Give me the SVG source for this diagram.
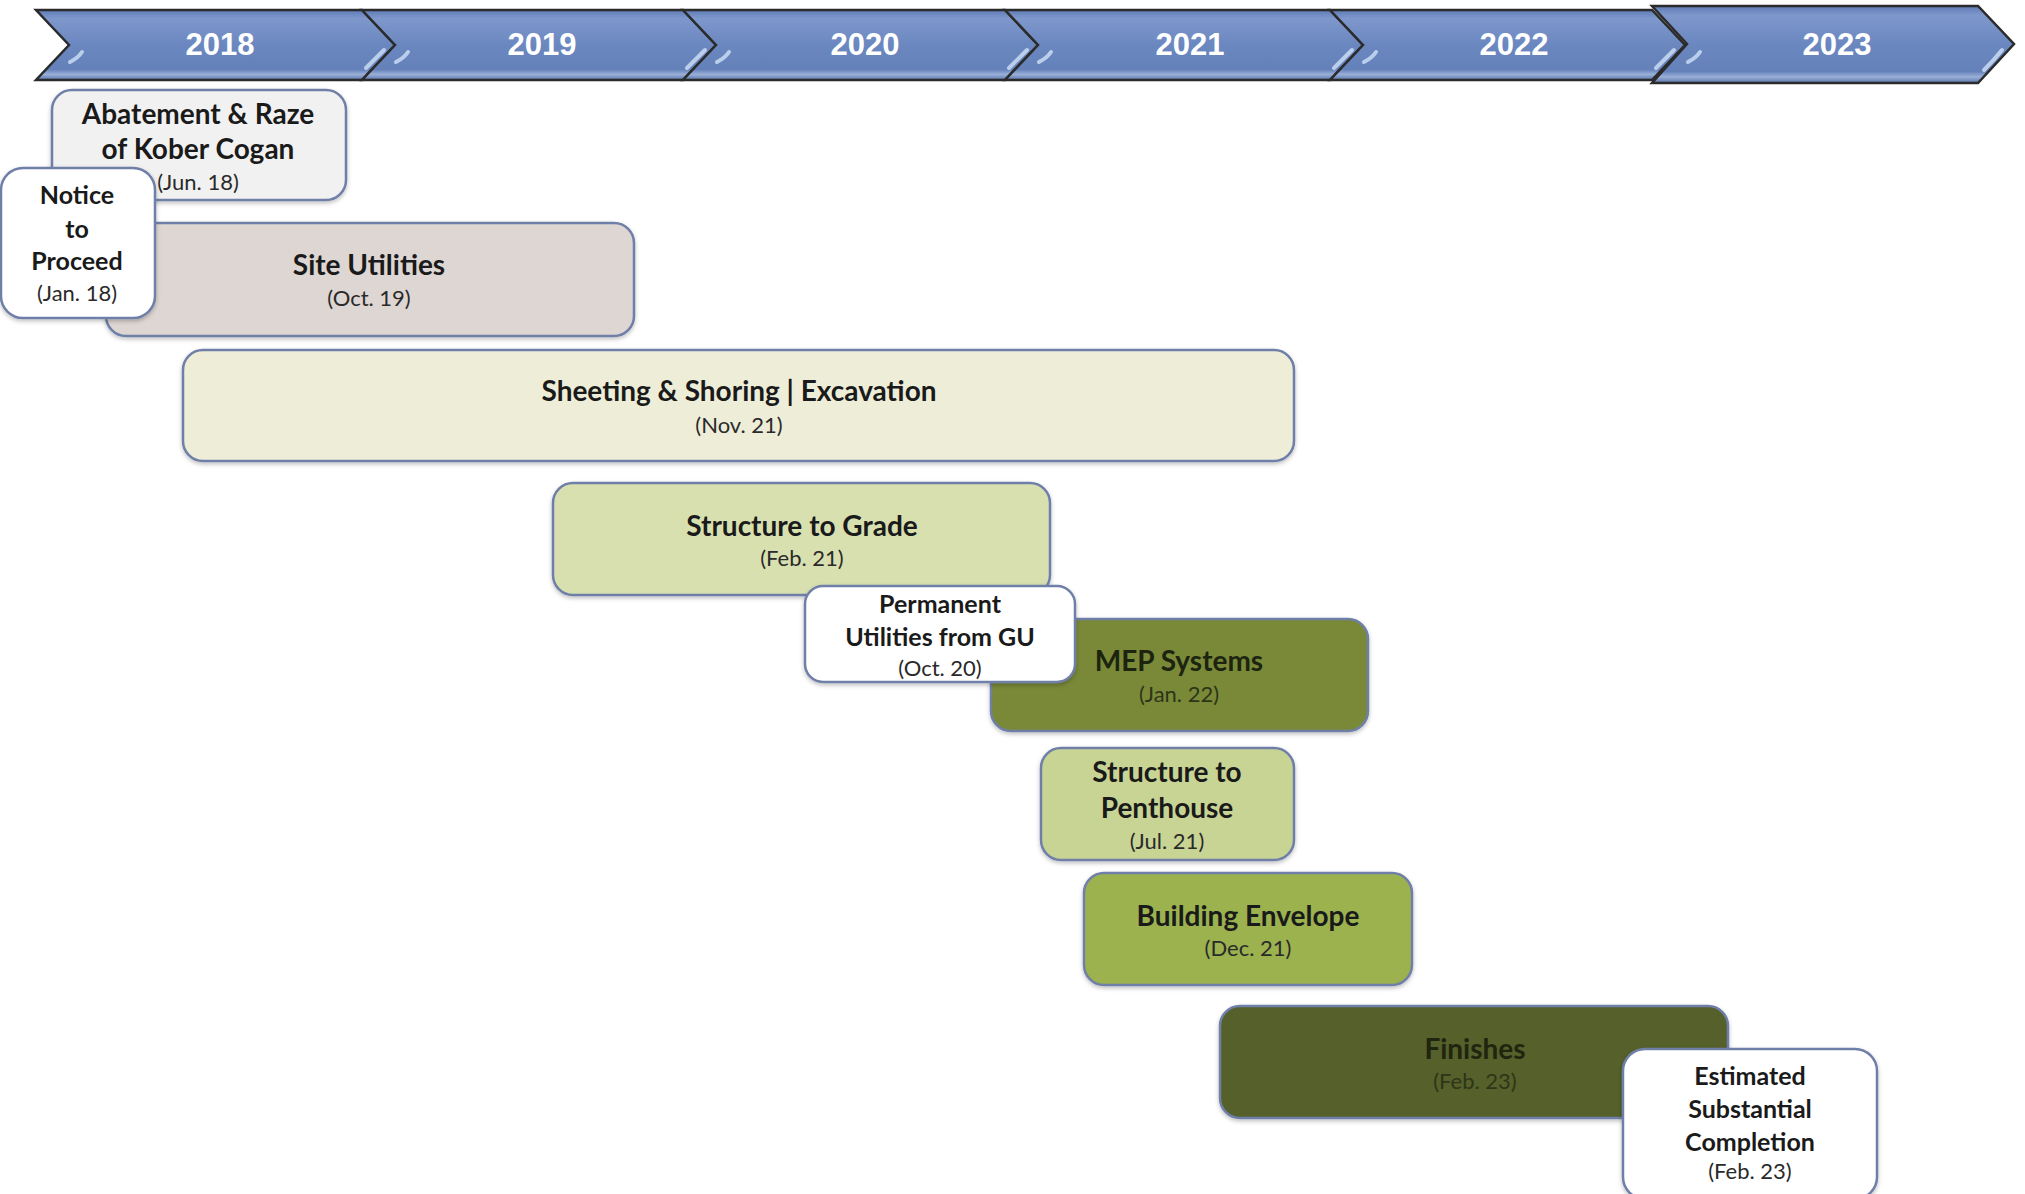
<svg xmlns="http://www.w3.org/2000/svg" width="2025" height="1194" viewBox="0 0 2025 1194">
<defs>
<linearGradient id="bar" x1="0" y1="0" x2="0" y2="1">
<stop offset="0" stop-color="#5f7bb5"/>
<stop offset="0.12" stop-color="#7e98cc"/>
<stop offset="0.5" stop-color="#6b87c0"/>
<stop offset="0.85" stop-color="#6481ba"/>
<stop offset="0.92" stop-color="#9ab0d8"/>
<stop offset="1" stop-color="#5a74aa"/>
</linearGradient>
<filter id="sh" x="-5%" y="-5%" width="110%" height="120%">
<feDropShadow dx="0" dy="2" stdDeviation="2" flood-color="#000" flood-opacity="0.25"/>
</filter>
</defs>
<style>
.seg{fill:url(#bar);stroke:#2b2b2b;stroke-width:2.5;stroke-linejoin:miter}
.yr{font-family:"Liberation Sans",Arial,sans-serif;font-weight:bold;font-size:31px;fill:#fff;text-anchor:middle}
.hl{fill:none;stroke:#c9dcf5;stroke-width:4;stroke-linecap:round;opacity:0.85}
.box{stroke:#6f7fa8;stroke-width:2.5;filter:url(#sh)}
.t{font-family:Lato,"Open Sans",sans-serif;font-weight:bold;font-size:28px;fill:#1a1a1a;text-anchor:middle}
.s{font-size:25px}
.d{font-family:Lato,"Open Sans",sans-serif;font-size:22px;fill:#2a2a2a;text-anchor:middle}
</style>
<g id="timeline">
<polygon class="seg" points="36,10 362,10 395,45 362,80 36,80 69,45"/>
<polygon class="seg" points="362,10 683,10 716,45 683,80 362,80 395,45"/>
<polygon class="seg" points="683,10 1005,10 1038,45 1005,80 683,80 716,45"/>
<polygon class="seg" points="1005,10 1330,10 1363,45 1330,80 1005,80 1038,45"/>
<polygon class="seg" points="1330,10 1652,10 1685,45 1652,80 1330,80 1363,45"/>
<polygon class="seg" points="1652,6 1978,6 2014,44 1978,83 1652,83 1687,44"/>
<path class="hl" d="M82,52 Q78,58 70,62"/>
<path class="hl" d="M384,50 Q376,58 366,68"/>
<path class="hl" d="M408,52 Q404,58 396,62"/>
<path class="hl" d="M705,50 Q697,58 687,68"/>
<path class="hl" d="M729,52 Q725,58 717,62"/>
<path class="hl" d="M1027,50 Q1019,58 1009,68"/>
<path class="hl" d="M1051,52 Q1047,58 1039,62"/>
<path class="hl" d="M1352,50 Q1344,58 1334,68"/>
<path class="hl" d="M1376,52 Q1372,58 1364,62"/>
<path class="hl" d="M1674,50 Q1666,58 1656,68"/>
<path class="hl" d="M1700,52 Q1696,58 1688,62"/>
<path class="hl" d="M2002,50 Q1994,60 1984,70"/>
<text class="yr" x="220" y="55">2018</text>
<text class="yr" x="542" y="55">2019</text>
<text class="yr" x="865" y="55">2020</text>
<text class="yr" x="1190" y="55">2021</text>
<text class="yr" x="1514" y="55">2022</text>
<text class="yr" x="1837" y="55">2023</text>
</g>
<g id="connectors"/>
<g id="abatement">
<rect class="box" x="52" y="90" width="294" height="110" rx="20" fill="#f2f1f1"/>
<text class="t" x="198" y="124">Abatement &amp; Raze</text>
<text class="t" x="198" y="159">of Kober Cogan</text>
<text class="d" x="198" y="190">(Jun. 18)</text>
</g>
<g id="site-utilities">
<rect class="box" x="106" y="223" width="528" height="113" rx="20" fill="#ddd6d2"/>
<text class="t" x="369" y="275">Site Utilities</text>
<text class="d" x="369" y="306">(Oct. 19)</text>
</g>
<g id="notice">
<rect class="box" x="1" y="168" width="154" height="150" rx="22" fill="#ffffff"/>
<text class="t s" x="77" y="204">Notice</text>
<text class="t s" x="77" y="238">to</text>
<text class="t s" x="77" y="270">Proceed</text>
<text class="d" x="77" y="301">(Jan. 18)</text>
</g>
<g id="sheeting">
<rect class="box" x="183" y="350" width="1111" height="111" rx="20" fill="#eeeed8"/>
<text class="t" x="739" y="401">Sheeting &amp; Shoring | Excavation</text>
<text class="d" x="739" y="433">(Nov. 21)</text>
</g>
<g id="structure-grade">
<rect class="box" x="553" y="483" width="497" height="112" rx="20" fill="#d8e0b0"/>
<text class="t" x="802" y="536">Structure to Grade</text>
<text class="d" x="802" y="566">(Feb. 21)</text>
</g>
<g id="mep">
<rect class="box" x="991" y="619" width="377" height="112" rx="20" fill="#798938"/>
<text class="t" x="1179" y="671" style="fill:#1c2410">MEP Systems</text>
<text class="d" x="1179" y="702" style="fill:#2c3518">(Jan. 22)</text>
</g>
<g id="permanent-utilities">
<rect class="box" x="805" y="586" width="270" height="96" rx="18" fill="#ffffff"/>
<text class="t s" x="940" y="613">Permanent</text>
<text class="t s" x="940" y="646">Utilities from GU</text>
<text class="d" x="940" y="676">(Oct. 20)</text>
</g>
<g id="structure-penthouse">
<rect class="box" x="1041" y="748" width="253" height="112" rx="20" fill="#c8d494"/>
<text class="t" x="1167" y="782">Structure to</text>
<text class="t" x="1167" y="818">Penthouse</text>
<text class="d" x="1167" y="849">(Jul. 21)</text>
</g>
<g id="building-envelope">
<rect class="box" x="1084" y="873" width="328" height="112" rx="20" fill="#9bb250"/>
<text class="t" x="1248" y="926">Building Envelope</text>
<text class="d" x="1248" y="956">(Dec. 21)</text>
</g>
<g id="finishes">
<rect class="box" x="1220" y="1006" width="508" height="112" rx="20" fill="#55602c"/>
<text class="t" x="1475" y="1059" style="fill:#20250f">Finishes</text>
<text class="d" x="1475" y="1089" style="fill:#2e3518">(Feb. 23)</text>
</g>
<g id="estimated-completion">
<rect class="box" x="1623" y="1049" width="254" height="150" rx="22" fill="#ffffff"/>
<text class="t s" x="1750" y="1085">Estimated</text>
<text class="t s" x="1750" y="1118">Substantial</text>
<text class="t s" x="1750" y="1151">Completion</text>
<text class="d" x="1750" y="1179">(Feb. 23)</text>
</g>
</svg>
